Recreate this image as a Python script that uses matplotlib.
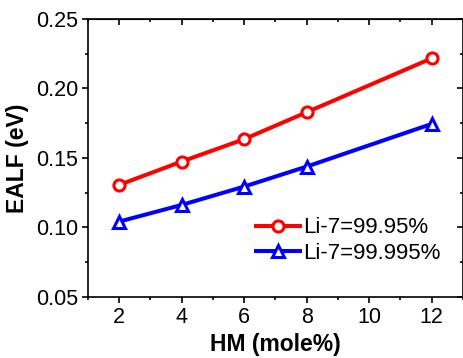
import numpy as np
import matplotlib.pyplot as plt
from matplotlib.ticker import MultipleLocator

plt.rcParams['font.family'] = ['Liberation Sans', 'DejaVu Sans']

hm = [2, 4, 6, 8, 12]
ealf_9995 = [0.1306, 0.1474, 0.1635, 0.1829, 0.2217]
ealf_99995 = [0.1042, 0.1162, 0.1294, 0.1438, 0.1745]

fig = plt.figure(figsize=(4.63, 3.58), dpi=100)
ax = fig.add_axes([0.1894, 0.1704, 0.8106, 0.7766])

ax.plot(hm, ealf_9995, color='red', lw=2.9, marker='o', ms=8,
        mfc='white', mec='red', mew=2.2, label='Li-7=99.95%')
ax.plot(hm, ealf_99995, color='blue', lw=2.9, marker='^', ms=8.5,
        mfc='white', mec='blue', mew=2.2, label='Li-7=99.995%')

ax.set_xlim(1, 13)
ax.set_ylim(0.05, 0.25)
ax.xaxis.set_major_locator(MultipleLocator(2))
ax.xaxis.set_minor_locator(MultipleLocator(1))
ax.yaxis.set_major_locator(MultipleLocator(0.05))
ax.yaxis.set_minor_locator(MultipleLocator(0.025))
ax.set_xticks([2, 4, 6, 8, 10, 12])
ax.set_yticks([0.05, 0.10, 0.15, 0.20, 0.25])
ax.set_yticklabels(['0.05', '0.10', '0.15', '0.20', '0.25'])

ax.tick_params(which='both', direction='out', labelsize=15.5, width=1.2, pad=3)
ax.tick_params(which='major', length=4)
ax.tick_params(which='minor', length=2.5)
for s in ax.spines.values():
    s.set_linewidth(1.2)

# inward ticks on top and right
tx = ax.secondary_xaxis('top')
tx.xaxis.set_major_locator(MultipleLocator(2))
tx.xaxis.set_minor_locator(MultipleLocator(1))
tx.tick_params(which='both', direction='in', labeltop=False, width=1.2)
tx.tick_params(which='major', length=4)
tx.tick_params(which='minor', length=2.5)
ty = ax.secondary_yaxis('right')
ty.yaxis.set_major_locator(MultipleLocator(0.05))
ty.yaxis.set_minor_locator(MultipleLocator(0.025))
ty.tick_params(which='both', direction='in', labelright=False, width=1.2)
ty.tick_params(which='major', length=4)
ty.tick_params(which='minor', length=2.5)

ax.set_xlabel('HM (mole%)', fontsize=16.5, fontweight='bold', labelpad=4)
ax.set_ylabel('EALF (eV)', fontsize=16.5, fontweight='bold', labelpad=5)

ax.legend(loc='upper left', bbox_to_anchor=(0.448, 0.286), frameon=False,
          fontsize=16, handlelength=2.0, handletextpad=0.15, labelspacing=0.2,
          borderaxespad=0, borderpad=0)

fig.savefig('out.png', dpi=100)
